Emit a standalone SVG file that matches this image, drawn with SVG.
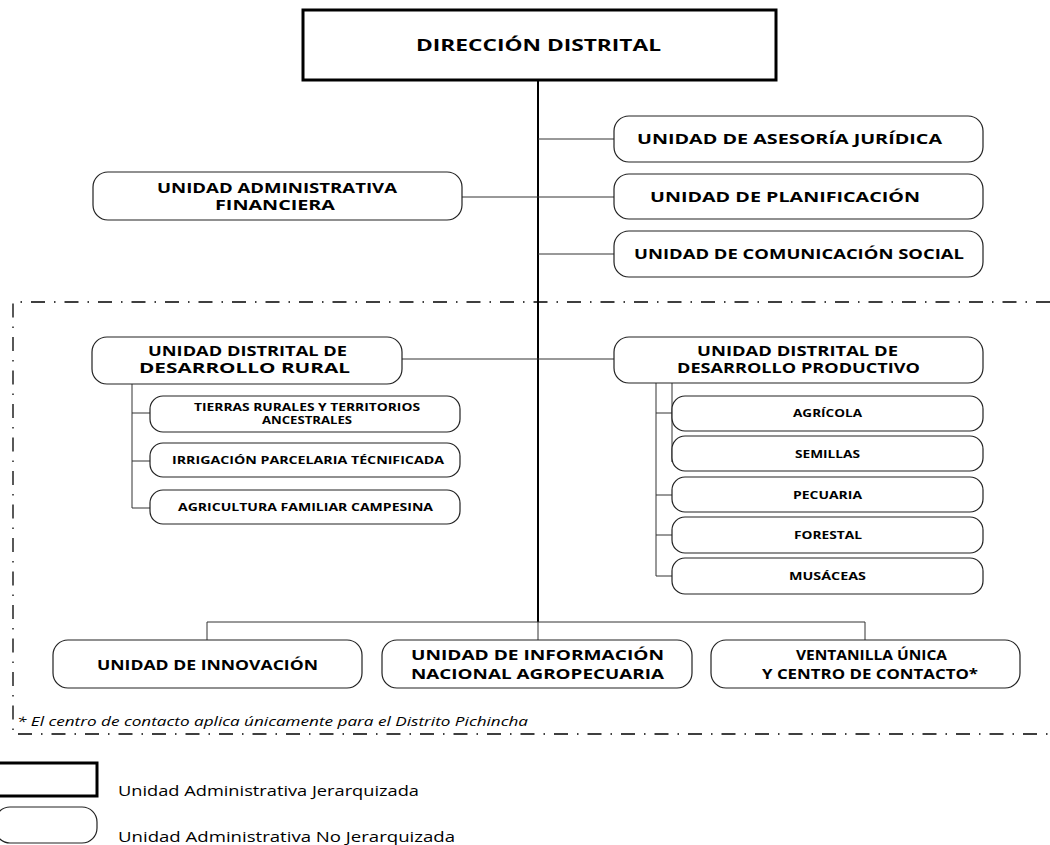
<svg xmlns="http://www.w3.org/2000/svg" width="1050" height="845" viewBox="0 0 1050 845">
<style>
.n{fill:#fff;stroke:#222;stroke-width:1.2}
.h{fill:#fff;stroke:#000;stroke-width:3}
.t{font-family:"Open Sans","DejaVu Sans",sans-serif;font-weight:bold;fill:#000}
.l{font-family:"Open Sans","DejaVu Sans",sans-serif;fill:#000;font-size:14.5px}
.c{stroke:#333;stroke-width:1;fill:none}
.tr{stroke:#000;stroke-width:2;fill:none}
.d{stroke:#000;stroke-width:1.3;fill:none;stroke-dasharray:14 9 1.5 9}
</style>
<rect width="1050" height="845" fill="#fff"/>
<path class="d" d="M1050 302 H13 V734 H1050"/>
<g id="connectors">
<path class="tr" d="M538 80 V622"/>
<path class="c" d="M538 139 H614 M462 197 H614 M538 254 H614 M402 359 H614"/>
<path class="c" d="M132 384 V508 M132 413 H150 M132 461 H150 M132 508 H150"/>
<path class="c" d="M656 383 V576 M656 413 H672 M656 495 H672 M656 535 H672 M656 576 H672 M672 383 V462"/>
<path class="c" d="M207 640 V622 H865 V640 M538 622 V640"/>
</g>
<g id="direccion"><rect class="h" x="303" y="10" width="473" height="70"/><text class="t" font-size="16.5" x="416" y="51" textLength="245" lengthAdjust="spacingAndGlyphs">DIRECCIÓN DISTRITAL</text></g>
<g id="asesoria"><rect class="n" x="614" y="116" width="369" height="46" rx="15"/><text class="t" font-size="14" x="637" y="144" textLength="305" lengthAdjust="spacingAndGlyphs">UNIDAD DE ASESORÍA JURÍDICA</text></g>
<g id="planificacion"><rect class="n" x="614" y="174" width="369" height="45" rx="15"/><text class="t" font-size="14" x="650" y="202" textLength="270" lengthAdjust="spacingAndGlyphs">UNIDAD DE PLANIFICACIÓN</text></g>
<g id="comunicacion"><rect class="n" x="614" y="231" width="369" height="46" rx="15"/><text class="t" font-size="14" x="634" y="259" textLength="330" lengthAdjust="spacingAndGlyphs">UNIDAD DE COMUNICACIÓN SOCIAL</text></g>
<g id="financiera"><rect class="n" x="93" y="172" width="369" height="48" rx="15"/><text class="t" font-size="14" x="157" y="193" textLength="240" lengthAdjust="spacingAndGlyphs">UNIDAD ADMINISTRATIVA</text><text class="t" font-size="14" x="215" y="210" textLength="120" lengthAdjust="spacingAndGlyphs">FINANCIERA</text></g>
<g id="rural"><rect class="n" x="92" y="337" width="310" height="47" rx="15"/><text class="t" font-size="14" x="148" y="356" textLength="199" lengthAdjust="spacingAndGlyphs">UNIDAD DISTRITAL DE</text><text class="t" font-size="14" x="139" y="373" textLength="211" lengthAdjust="spacingAndGlyphs">DESARROLLO RURAL</text></g>
<g id="productivo"><rect class="n" x="614" y="337" width="369" height="46" rx="15"/><text class="t" font-size="14" x="697" y="356" textLength="201" lengthAdjust="spacingAndGlyphs">UNIDAD DISTRITAL DE</text><text class="t" font-size="14" x="677" y="373" textLength="243" lengthAdjust="spacingAndGlyphs">DESARROLLO PRODUCTIVO</text></g>
<g id="tierras"><rect class="n" x="150" y="396" width="310" height="36" rx="13"/><text class="t" font-size="10" x="194" y="411" textLength="226" lengthAdjust="spacingAndGlyphs">TIERRAS RURALES Y TERRITORIOS</text><text class="t" font-size="10" x="262" y="424" textLength="90" lengthAdjust="spacingAndGlyphs">ANCESTRALES</text></g>
<g id="irrigacion"><rect class="n" x="150" y="443" width="310" height="34" rx="13"/><text class="t" font-size="10" x="172" y="464" textLength="272" lengthAdjust="spacingAndGlyphs">IRRIGACIÓN PARCELARIA TÉCNIFICADA</text></g>
<g id="agricultura"><rect class="n" x="150" y="490" width="310" height="34" rx="13"/><text class="t" font-size="10" x="178" y="511" textLength="255" lengthAdjust="spacingAndGlyphs">AGRICULTURA FAMILIAR CAMPESINA</text></g>
<g id="agricola"><rect class="n" x="672" y="396" width="311" height="35" rx="13"/><text class="t" font-size="10" x="793" y="417" textLength="69" lengthAdjust="spacingAndGlyphs">AGRÍCOLA</text></g>
<g id="semillas"><rect class="n" x="672" y="436" width="311" height="35" rx="13"/><text class="t" font-size="10" x="795" y="458" textLength="65" lengthAdjust="spacingAndGlyphs">SEMILLAS</text></g>
<g id="pecuaria"><rect class="n" x="672" y="477" width="311" height="35" rx="13"/><text class="t" font-size="10" x="793" y="499" textLength="69" lengthAdjust="spacingAndGlyphs">PECUARIA</text></g>
<g id="forestal"><rect class="n" x="672" y="517" width="311" height="36" rx="13"/><text class="t" font-size="10" x="794" y="539" textLength="68" lengthAdjust="spacingAndGlyphs">FORESTAL</text></g>
<g id="musaceas"><rect class="n" x="672" y="558" width="311" height="36" rx="13"/><text class="t" font-size="10" x="789" y="580" textLength="77" lengthAdjust="spacingAndGlyphs">MUSÁCEAS</text></g>
<g id="innovacion"><rect class="n" x="53" y="640" width="309" height="48" rx="15"/><text class="t" font-size="15" x="97" y="670" textLength="221" lengthAdjust="spacingAndGlyphs">UNIDAD DE INNOVACIÓN</text></g>
<g id="informacion"><rect class="n" x="382" y="640" width="310" height="48" rx="15"/><text class="t" font-size="15" x="411" y="660" textLength="253" lengthAdjust="spacingAndGlyphs">UNIDAD DE INFORMACIÓN</text><text class="t" font-size="15" x="411" y="679" textLength="253" lengthAdjust="spacingAndGlyphs">NACIONAL AGROPECUARIA</text></g>
<g id="ventanilla"><rect class="n" x="711" y="640" width="309" height="48" rx="15"/><text class="t" font-size="15" x="796" y="660" textLength="151" lengthAdjust="spacingAndGlyphs">VENTANILLA ÚNICA</text><text class="t" font-size="15" x="762" y="679" textLength="216" lengthAdjust="spacingAndGlyphs">Y CENTRO DE CONTACTO*</text></g>
<text id="nota" x="17" y="726" font-family="'Open Sans','DejaVu Sans',sans-serif" font-style="italic" font-size="13.5" textLength="511" lengthAdjust="spacingAndGlyphs">* El centro de contacto aplica únicamente para el Distrito Pichincha</text>
<g id="legend">
<rect class="h" x="-10" y="763" width="107" height="33"/>
<text class="l" x="118" y="796" textLength="301" lengthAdjust="spacingAndGlyphs">Unidad Administrativa Jerarquizada</text>
<rect class="n" x="-5" y="807" width="102" height="36" rx="15"/>
<text class="l" x="118" y="842" textLength="337" lengthAdjust="spacingAndGlyphs">Unidad Administrativa No Jerarquizada</text>
</g>
</svg>
